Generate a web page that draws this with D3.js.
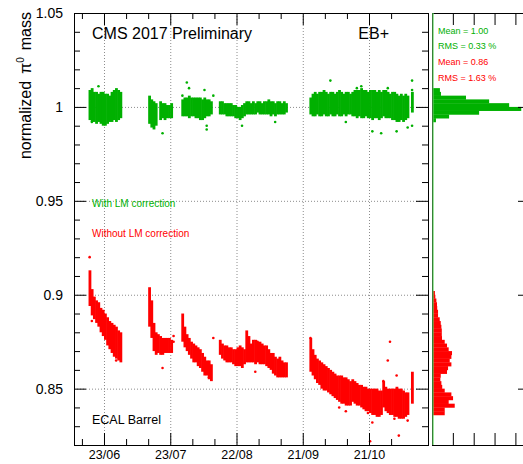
<!DOCTYPE html>
<html>
<head>
<meta charset="utf-8">
<script src="https://cdn.jsdelivr.net/npm/d3@7"></script>
<style>
body { margin: 0; background: #fff; }
text { font-family: "Liberation Sans", Arial, sans-serif; }
</style>
</head>
<body>
<svg id="chart" width="523" height="464"></svg>
<script>
// per-day spread of the normalized pi0 mass: [day, low, high]
const withLM = [
  ["06-16",0.993,1.009],["06-17",0.992,1.010],["06-18",0.992,1.008],["06-19",0.991,1.008],["06-20",0.992,1.007],
  ["06-21",0.991,1.008],["06-22",0.990,1.008],["06-23",0.990,1.007],["06-24",0.991,1.007],["06-25",0.992,1.006],
  ["06-26",0.992,1.008],["06-27",0.993,1.009],["06-28",0.992,1.010],["06-29",0.993,1.009],["06-30",0.994,1.008],
  ["07-13",0.991,1.006],["07-14",0.989,1.004],["07-15",0.988,1.003],["07-16",0.990,1.002],
  ["07-18",0.993,1.003],["07-19",0.994,1.002],["07-20",0.993,1.002],["07-21",0.994,1.001],["07-22",0.994,1.001],["07-23",0.994,1.002],
  ["07-28",0.995,1.004],["07-29",0.995,1.005],["07-30",0.995,1.005],["07-31",0.994,1.006],["08-01",0.995,1.005],
  ["08-02",0.995,1.005],["08-03",0.994,1.005],["08-04",0.994,1.005],["08-05",0.993,1.005],["08-06",0.993,1.004],
  ["08-07",0.994,1.005],["08-08",0.995,1.004],["08-09",0.995,1.004],["08-10",0.996,1.003],
  ["08-14",0.996,1.003],["08-15",0.996,1.003],["08-16",0.996,1.002],["08-17",0.995,1.002],["08-18",0.995,1.002],
  ["08-19",0.995,1.002],["08-20",0.995,1.001],["08-21",0.994,1.001],["08-22",0.994,1.000],["08-23",0.993,1.000],
  ["08-24",0.994,1.001],["08-25",0.995,1.002],
  ["08-26",0.996,1.003],["08-27",0.996,1.003],["08-28",0.996,1.002],["08-29",0.996,1.003],["08-30",0.996,1.002],
  ["08-31",0.997,1.003],["09-01",0.996,1.003],["09-02",0.996,1.002],["09-03",0.996,1.003],["09-04",0.996,1.003],
  ["09-05",0.996,1.004],["09-06",0.995,1.003],["09-07",0.996,1.003],["09-08",0.995,1.002],["09-09",0.996,1.003],
  ["09-10",0.996,1.003],["09-11",0.996,1.002],["09-12",0.996,1.003],["09-13",0.997,1.002],
  ["09-24",0.996,1.005],["09-25",0.995,1.007],["09-26",0.995,1.008],["09-27",0.996,1.007],["09-28",0.995,1.008],
  ["09-29",0.995,1.008],["09-30",0.996,1.009],["10-01",0.995,1.008],["10-02",0.995,1.007],["10-03",0.996,1.008],
  ["10-04",0.995,1.008],["10-05",0.995,1.007],["10-06",0.996,1.008],["10-07",0.995,1.009],["10-08",0.995,1.008],
  ["10-09",0.996,1.007],["10-10",0.995,1.008],["10-11",0.996,1.008],["10-12",0.996,1.007],
  ["10-13",0.995,1.008],["10-14",0.995,1.009],["10-15",0.994,1.009],["10-16",0.995,1.009],["10-17",0.994,1.010],
  ["10-18",0.994,1.009],["10-19",0.995,1.009],["10-20",0.994,1.008],["10-21",0.994,1.009],["10-22",0.993,1.009],
  ["10-23",0.994,1.009],["10-24",0.994,1.008],["10-25",0.993,1.009],["10-26",0.994,1.008],["10-27",0.995,1.009],
  ["10-28",0.994,1.009],["10-29",0.994,1.008],["10-30",0.994,1.007],["10-31",0.993,1.008],["11-01",0.993,1.008],
  ["11-02",0.992,1.007],["11-03",0.992,1.006],["11-04",0.993,1.007],["11-05",0.992,1.006],["11-06",0.993,1.007],
  ["11-07",0.994,1.006],["11-09",0.997,1.008]
];
const withoutLM = [
  ["06-16",0.894,0.913],["06-17",0.889,0.903],["06-18",0.887,0.899],["06-19",0.885,0.897],["06-20",0.883,0.896],
  ["06-21",0.880,0.893],["06-22",0.878,0.892],["06-23",0.876,0.890],["06-24",0.873,0.888],["06-25",0.871,0.886],
  ["06-26",0.869,0.885],["06-27",0.867,0.884],["06-28",0.866,0.883],["06-29",0.865,0.881],["06-30",0.864,0.880],
  ["07-13",0.883,0.904],["07-14",0.877,0.897],["07-15",0.870,0.885],["07-16",0.868,0.880],["07-17",0.869,0.879],
  ["07-18",0.868,0.878],["07-19",0.868,0.877],["07-20",0.869,0.877],["07-21",0.869,0.877],["07-22",0.869,0.877],["07-23",0.869,0.876],
  ["07-28",0.875,0.890],["07-29",0.872,0.883],["07-30",0.870,0.879],["07-31",0.868,0.877],["08-01",0.866,0.875],
  ["08-02",0.864,0.874],["08-03",0.864,0.873],["08-04",0.862,0.872],["08-05",0.861,0.871],["08-06",0.859,0.869],
  ["08-07",0.857,0.867],["08-08",0.857,0.865],["08-09",0.855,0.865],["08-10",0.854,0.863],
  ["08-14",0.868,0.876],["08-15",0.866,0.874],["08-16",0.865,0.873],["08-17",0.864,0.873],["08-18",0.864,0.872],
  ["08-19",0.864,0.872],["08-20",0.863,0.871],["08-21",0.862,0.871],["08-22",0.862,0.872],["08-23",0.862,0.873],
  ["08-24",0.861,0.872],["08-25",0.863,0.871],
  ["08-26",0.864,0.881],["08-27",0.864,0.878],["08-28",0.864,0.874],["08-29",0.864,0.876],["08-30",0.863,0.876],
  ["08-31",0.864,0.875],["09-01",0.863,0.875],["09-02",0.863,0.874],["09-03",0.863,0.873],["09-04",0.862,0.873],
  ["09-05",0.861,0.871],["09-06",0.860,0.869],["09-07",0.858,0.869],["09-08",0.857,0.867],["09-09",0.856,0.866],
  ["09-10",0.856,0.867],["09-11",0.856,0.865],["09-12",0.856,0.864],["09-13",0.856,0.864],
  ["09-24",0.859,0.877],["09-25",0.857,0.871],["09-26",0.855,0.868],["09-27",0.853,0.866],["09-28",0.852,0.865],
  ["09-29",0.850,0.864],["09-30",0.849,0.863],["10-01",0.849,0.862],["10-02",0.848,0.861],["10-03",0.847,0.860],
  ["10-04",0.846,0.859],["10-05",0.845,0.858],["10-06",0.844,0.857],["10-07",0.843,0.857],["10-08",0.842,0.857],
  ["10-09",0.842,0.856],["10-10",0.841,0.856],["10-11",0.841,0.855],["10-12",0.841,0.854],
  ["10-13",0.843,0.855],["10-14",0.842,0.854],["10-15",0.841,0.853],["10-16",0.841,0.852],["10-17",0.840,0.852],
  ["10-18",0.839,0.851],["10-19",0.838,0.851],["10-20",0.838,0.850],["10-21",0.837,0.850],["10-22",0.836,0.850],
  ["10-23",0.836,0.850],["10-24",0.835,0.850],["10-25",0.835,0.849],["10-26",0.836,0.849],["10-27",0.840,0.854],
  ["10-28",0.838,0.851],["10-29",0.837,0.850],["10-30",0.836,0.850],["10-31",0.836,0.850],["11-01",0.835,0.850],
  ["11-02",0.835,0.851],["11-03",0.834,0.850],["11-04",0.834,0.850],["11-05",0.834,0.849],["11-06",0.835,0.848],
  ["11-07",0.836,0.848],["11-09",0.842,0.859]
];
// isolated points away from the bulk: [day, value]
const withLMOut = [
  ["06-17",0.992],["06-20",1.011],["07-19",0.986],["07-28",1.006],["07-30",1.013],["07-31",1.010],
  ["08-07",1.009],["08-08",0.990],["08-08",0.988],["08-11",1.006],["08-24",0.990],["09-08",0.992],
  ["10-03",1.014],["10-10",0.992],["10-15",1.010],["10-17",1.011],["10-22",0.987],["10-26",0.986],
  ["10-29",1.010],["11-02",0.987],["11-07",0.989],["11-09",1.014],["11-09",1.009],["11-09",0.990]
];
const withoutLMOut = [
  ["06-16",0.920],["06-17",0.886],["06-28",0.865],["07-19",0.861],["07-24",0.878],["07-24",0.875],
  ["08-09",0.856],["08-11",0.877],["08-30",0.859],["08-31",0.875],["09-24",0.877],["10-07",0.840],
  ["10-10",0.838],["10-20",0.837],["10-22",0.832],["10-21",0.822],["10-29",0.865],["10-30",0.875],
  ["10-27",0.854],["11-01",0.834],["11-02",0.857],["11-03",0.825],["11-07",0.833]
];
// projections, bins of 0.002: [lower edge, entries]
const histWithLM = [
  [0.992,19],[0.994,82],[0.996,226],[0.998,428],[1.000,370],[1.002,274],[1.004,163],[1.006,43],[1.008,38]
];
const histWithoutLM = [
  [0.836,61],[0.838,61],[0.840,109],[0.842,80],[0.844,101],[0.846,93],[0.848,61],[0.850,49],[0.852,45],
  [0.854,40],[0.856,42],[0.858,72],[0.860,77],[0.862,93],[0.864,85],[0.866,93],[0.868,96],[0.870,80],
  [0.872,72],[0.874,61],[0.876,48],[0.878,47],[0.880,47],[0.882,45],[0.884,42],[0.886,37],[0.888,29],
  [0.890,29],[0.892,25],[0.894,24],[0.896,21],[0.898,16],[0.900,14]
];
const dateLabels = ["06-23","07-23","08-22","09-21","10-21"];
const yLabels = [0.85, 0.9, 0.95, 1, 1.05];
const statsLM = ["Mean = 1.00", "RMS = 0.33 %"];
const statsNoLM = ["Mean = 0.86", "RMS = 1.63 %"];

const GREEN = "#00b000", RED = "#ff0000";
const svg = d3.select("#chart");
const parse = d3.timeParse("%Y-%m-%d");
const day = s => parse("2017-" + s);
const noon = s => d3.timeHour.offset(day(s), 12);

const x = d3.scaleTime()
  .domain([new Date(2017, 5, 9, 10), new Date(2017, 10, 16, 17)])
  .range([74, 428]);
const y = d3.scaleLinear().domain([0.82, 1.05]).range([445, 13]);
const hx = d3.scaleLinear().domain([0, 470]).range([432, 530]);

const majorDates = dateLabels.map(day);
const minorDates = d3.range(0, 15).map(i => d3.timeDay.offset(day("06-13"), 10 * i))
  .filter(d => !majorDates.some(m => +m === +d));
const minorY = d3.range(83, 105).map(v => v / 100).filter(v => Math.round(v * 100) % 5 !== 0);

// grid
const grid = svg.append("g").attr("stroke", "#8c8c8c").attr("stroke-dasharray", "1,2");
grid.selectAll(".gx").data(majorDates).join("line")
  .attr("x1", d => x(d) + 0.5).attr("x2", d => x(d) + 0.5).attr("y1", 13).attr("y2", 445);
grid.selectAll(".gy").data(yLabels.filter(v => v < 1.05)).join("line")
  .attr("x1", 74).attr("x2", 428).attr("y1", d => y(d) + 0.5).attr("y2", d => y(d) + 0.5);

// points: one filled column per day plus the stray points
function drawSeries(cols, outs, color) {
  const g = svg.append("g").attr("fill", color);
  g.selectAll("rect").data(cols).join("rect")
    .attr("x", d => x(day(d[0])))
    .attr("width", d => x(d3.timeDay.offset(day(d[0]), 1)) - x(day(d[0])) + 0.6)
    .attr("y", d => y(d[2]))
    .attr("height", d => y(d[1]) - y(d[2]));
  g.selectAll("circle").data(outs).join("circle")
    .attr("cx", d => x(noon(d[0])))
    .attr("cy", d => y(d[1]))
    .attr("r", 1.3);
}
drawSeries(withLM, withLMOut, GREEN);
drawSeries(withoutLM, withoutLMOut, RED);

// main frame and axes
svg.append("rect").attr("x", 74.5).attr("y", 13.5).attr("width", 354).attr("height", 432)
  .attr("fill", "none").attr("stroke", "#000");

function ticks(axis, at, size, vals, fmt) {
  const a = axis.tickValues(vals).tickSize(size).tickFormat(fmt || "");
  const g = svg.append("g").attr("transform", at).call(a);
  g.select(".domain").remove();
  return g;
}
const fmtDate = d3.timeFormat("%d/%m");
const xb = ticks(d3.axisBottom(x).tickPadding(5), "translate(0,445)", -12, majorDates, fmtDate);
xb.selectAll("text").attr("font-size", 12.5).attr("font-family", "Liberation Sans, Arial, sans-serif").attr("fill", "#000");
ticks(d3.axisBottom(x), "translate(0,445)", -6, minorDates);
ticks(d3.axisTop(x), "translate(0,13)", -12, majorDates);
ticks(d3.axisTop(x), "translate(0,13)", -6, minorDates);
const yl = ticks(d3.axisLeft(y).tickPadding(11), "translate(74,0)", -12, yLabels, d3.format(""));
yl.selectAll("text").attr("font-size", 14).attr("font-family", "Liberation Sans, Arial, sans-serif").attr("fill", "#000");
ticks(d3.axisLeft(y), "translate(74,0)", -6, minorY);
ticks(d3.axisRight(y), "translate(428,0)", -12, yLabels);
ticks(d3.axisRight(y), "translate(428,0)", -6, minorY);

// projection panel
svg.append("g").attr("fill", RED).selectAll("rect").data(histWithoutLM).join("rect")
  .attr("x", hx(0)).attr("width", d => hx(d[1]) - hx(0))
  .attr("y", d => y(d[0] + 0.002)).attr("height", d => y(d[0]) - y(d[0] + 0.002) + 0.3);
svg.append("g").attr("fill", GREEN).selectAll("rect").data(histWithLM).join("rect")
  .attr("x", hx(0)).attr("width", d => hx(d[1]) - hx(0))
  .attr("y", d => y(d[0] + 0.002)).attr("height", d => y(d[0]) - y(d[0] + 0.002) + 0.3);
svg.append("rect").attr("x", 432.5).attr("y", 13.5).attr("width", 98).attr("height", 432)
  .attr("fill", "none").attr("stroke", "#000");
svg.append("line").attr("x1", 433).attr("x2", 433).attr("y1", 13).attr("y2", 445)
  .attr("stroke", "#5cd65c").attr("stroke-width", 1.2);
const hTicks = [100, 200, 300, 400];
ticks(d3.axisBottom(hx), "translate(0,445)", -12, hTicks);
ticks(d3.axisTop(hx), "translate(0,13)", -12, hTicks);
ticks(d3.axisLeft(y), "translate(530,0)", 12, yLabels);
ticks(d3.axisLeft(y), "translate(530,0)", 6, minorY);

// texts
svg.append("text").attr("x", 92).attr("y", 39).attr("font-size", 16).text("CMS 2017 Preliminary");
svg.append("text").attr("x", 389).attr("y", 39).attr("font-size", 16).attr("text-anchor", "end").text("EB+");
svg.append("text").attr("x", 92).attr("y", 207).attr("font-size", 10).attr("fill", GREEN).text("With LM correction");
svg.append("text").attr("x", 92).attr("y", 237).attr("font-size", 10).attr("fill", RED).text("Without LM correction");
svg.append("text").attr("x", 92).attr("y", 424).attr("font-size", 12.5).text("ECAL Barrel");
svg.selectAll(".st").data(statsLM.concat(statsNoLM)).join("text")
  .attr("x", 438).attr("y", (d, i) => [33.5, 48.5, 64.5, 80.5][i])
  .attr("font-size", 9).attr("fill", (d, i) => i < 2 ? GREEN : RED).text(d => d);

const title = svg.append("text").attr("transform", "translate(31,12) rotate(-90)")
  .attr("text-anchor", "end").attr("font-size", 16);
title.append("tspan").text("normalized");
title.append("tspan").attr("dx", 7).text("\u03c0");
title.append("tspan").attr("dy", -7).attr("font-size", 10).text("0");
title.append("tspan").attr("dx", 7).attr("dy", 7).text("mass");
</script>
</body>
</html>
